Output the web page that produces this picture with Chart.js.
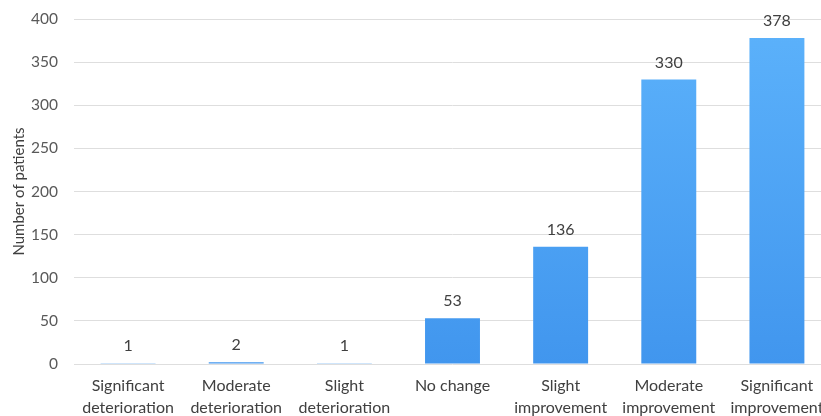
<!DOCTYPE html>
<html>
<head>
<meta charset="utf-8">
<script src="https://cdn.jsdelivr.net/npm/chart.js@4/dist/chart.umd.min.js"></script>
<style>
  html, body { margin: 0; padding: 0; background: #fff; overflow: hidden; }
  #wrap { width: 835px; height: 416px; position: relative; }
</style>
</head>
<body>
<div id="wrap"><canvas id="chart"></canvas></div>
<script>
// Change in condition after treatment, counted per category
const categories = [
  ['Significant', 'deterioration'],
  ['Moderate', 'deterioration'],
  ['Slight', 'deterioration'],
  'No change',
  ['Slight', 'improvement'],
  ['Moderate', 'improvement'],
  ['Significant', 'improvement']
];
const patients = [1, 2, 1, 53, 136, 330, 378];
const yTicks = [0, 50, 100, 150, 200, 250, 300, 350, 400];

const FONT = 'Lato, "Open Sans", sans-serif';

// Vertical blue gradient for the bars
function barGradient(ctx) {
  const chart = ctx.chart;
  const area = chart.chartArea;
  if (!area) return '#4ea3f4';
  const g = chart.ctx.createLinearGradient(0, area.top, 0, area.bottom);
  g.addColorStop(0, '#5cb2fb');
  g.addColorStop(1, '#4196ee');
  return g;
}

// Value labels above each bar
const valueLabels = {
  id: 'valueLabels',
  afterDatasetsDraw(chart) {
    const ctx = chart.ctx;
    const meta = chart.getDatasetMeta(0);
    ctx.save();
    ctx.font = '16px ' + FONT;
    ctx.fillStyle = '#404040';
    ctx.textAlign = 'center';
    ctx.textBaseline = 'middle';
    meta.data.forEach((bar, i) => {
      ctx.fillText(String(patients[i]), bar.x, bar.y - 17);
    });
    ctx.restore();
  }
};

new Chart(document.getElementById('chart'), {
  type: 'bar',
  data: {
    labels: categories,
    datasets: [{
      data: patients,
      backgroundColor: barGradient,
      borderWidth: 0,
      categoryPercentage: 1,
      barPercentage: 0.508
    }]
  },
  options: {
    responsive: true,
    maintainAspectRatio: false,
    animation: false,
    layout: { padding: { top: 19, right: 4, left: 0, bottom: 0 } },
    plugins: { legend: { display: false }, tooltip: { enabled: false } },
    scales: {
      x: {
        grid: { display: false, drawTicks: false },
        border: { display: false },
        ticks: {
          color: '#404040',
          font: { family: FONT, size: 16, lineHeight: 1.375 },
          padding: 11,
          maxRotation: 0,
          autoSkip: false
        },
        afterFit(scale) {
          scale.height = 52;
          scale.paddingLeft = 0;
          scale.paddingRight = 0;
        }
      },
      y: {
        min: 0,
        max: 400,
        afterBuildTicks(scale) { scale.ticks = yTicks.map(v => ({ value: v })); },
        grid: { color: '#dedede', lineWidth: 1, drawTicks: false },
        border: { display: false },
        ticks: {
          color: '#595959',
          font: { family: FONT, size: 15.5 },
          padding: 16
        },
        title: {
          display: true,
          text: 'Number of patients',
          color: '#404040',
          font: { family: FONT, size: 15 },
          padding: { top: 10, bottom: 4 }
        },
        afterFit(scale) {
          scale.width = 74;
          scale.paddingTop = 0;
          scale.paddingBottom = 0;
        }
      }
    }
  },
  plugins: [valueLabels]
});
</script>
</body>
</html>
